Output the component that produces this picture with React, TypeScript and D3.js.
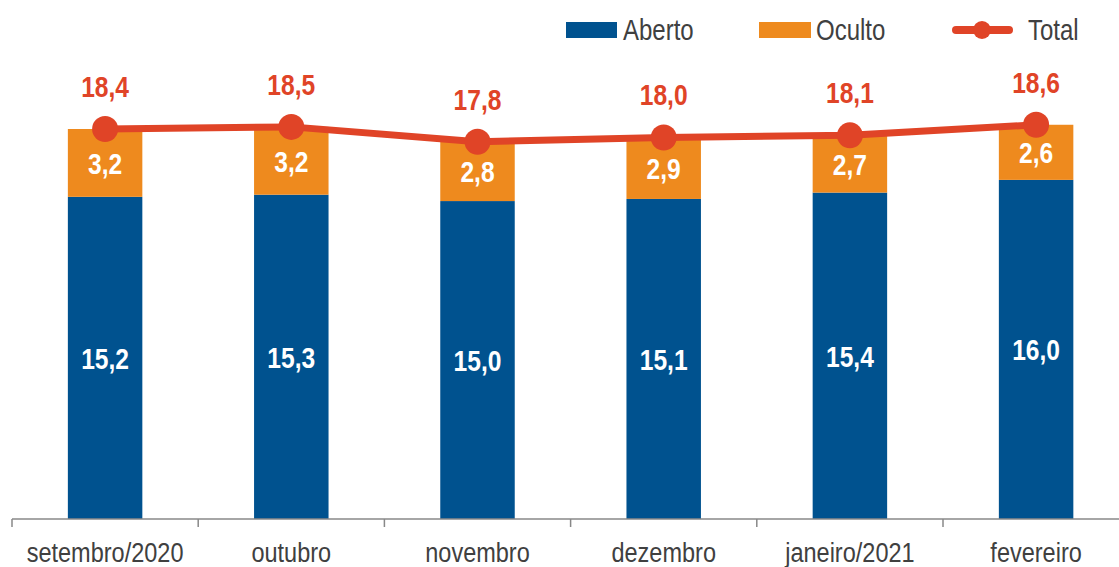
import React from "react";
import * as d3 from "d3";

const categories = ["setembro/2020", "outubro", "novembro", "dezembro", "janeiro/2021", "fevereiro"];
const aberto = [15.2, 15.3, 15.0, 15.1, 15.4, 16.0];
const oculto = [3.2, 3.2, 2.8, 2.9, 2.7, 2.6];
const total = [18.4, 18.5, 17.8, 18.0, 18.1, 18.6];

const BLUE = "#00528F";
const ORANGE = "#EE8A1E";
const RED = "#E04427";
const TEXT = "#404040";
const FONT = "'Liberation Sans', Arial, sans-serif";

const fmt = (v: number) => v.toFixed(1).replace(".", ",");

function T(props: { x: number; y: number; size: number; fill: string; bold?: boolean; anchor?: string; sx?: number; children: React.ReactNode }) {
  const { x, y, size, fill, bold, anchor = "middle", sx = 0.82, children } = props;
  return (
    <g transform={`translate(${x},${y}) scale(${sx},1)`}>
      <text x={0} y={0} textAnchor={anchor} fill={fill} fontSize={size} fontWeight={bold ? "bold" : "normal"} fontFamily={FONT}>
        {children}
      </text>
    </g>
  );
}

export default function App() {
  const W = 1119, H = 567;
  const step = 186.2;
  const x = d3.scaleBand<string>().domain(categories).range([12, 12 + step * 6]).paddingInner(0.6).paddingOuter(0.3);
  const band = d3.scaleBand<string>().domain(categories).range([12, 12 + step * 6]);
  const y = d3.scaleLinear().domain([0, 18.4]).range([519, 129]);
  const cx = (c: string) => (x(c) as number) + x.bandwidth() / 2;
  const line = d3.line<number>().x((_, i) => cx(categories[i])).y((d) => y(d));
  const ticks = categories.map((c) => band(c) as number).concat([12 + step * 6]);

  return (
    <svg width={W} height={H} style={{ position: "absolute", left: 0, top: 0 }}>
      <rect width={W} height={H} fill="#fff" />
      {categories.map((c, i) => (
        <g key={c}>
          <rect x={x(c)} width={x.bandwidth()} y={y(aberto[i])} height={y(0) - y(aberto[i])} fill={BLUE} />
          <rect x={x(c)} width={x.bandwidth()} y={y(aberto[i] + oculto[i])} height={y(aberto[i]) - y(aberto[i] + oculto[i])} fill={ORANGE} />
          <T x={cx(c)} y={(y(0) + y(aberto[i])) / 2 + 11} size={30} fill="#fff" bold>{fmt(aberto[i])}</T>
          <T x={cx(c)} y={(y(aberto[i]) + y(aberto[i] + oculto[i])) / 2 + 11} size={30} fill="#fff" bold>{fmt(oculto[i])}</T>
        </g>
      ))}
      <line x1={12} x2={W} y1={519} y2={519} stroke="#888" strokeWidth={1.5} />
      {ticks.map((t, i) => (
        <line key={i} x1={t} x2={t} y1={519} y2={527} stroke="#888" strokeWidth={1.5} />
      ))}
      {categories.map((c) => (
        <T key={c} x={cx(c)} y={562} size={28} fill={TEXT} sx={0.84}>{c}</T>
      ))}
      <path d={line(total) as string} fill="none" stroke={RED} strokeWidth={7} strokeLinejoin="round" />
      {categories.map((c, i) => (
        <g key={c}>
          <circle cx={cx(c)} cy={y(total[i])} r={13} fill={RED} />
          <T x={cx(c)} y={y(total[i]) - 32} size={30} fill={RED} bold>{fmt(total[i])}</T>
        </g>
      ))}
      {/* legend */}
      <rect x={566} y={22} width={51} height={16} fill={BLUE} />
      <T x={623} y={40} size={30} fill={TEXT} anchor="start" sx={0.8}>Aberto</T>
      <rect x={759} y={22} width={52} height={16} fill={ORANGE} />
      <T x={816} y={40} size={30} fill={TEXT} anchor="start" sx={0.8}>Oculto</T>
      <line x1={956} x2={1009} y1={30} y2={30} stroke={RED} strokeWidth={8} strokeLinecap="round" />
      <circle cx={982} cy={30} r={9} fill={RED} />
      <T x={1028} y={40} size={30} fill={TEXT} anchor="start" sx={0.8}>Total</T>
    </svg>
  );
}
